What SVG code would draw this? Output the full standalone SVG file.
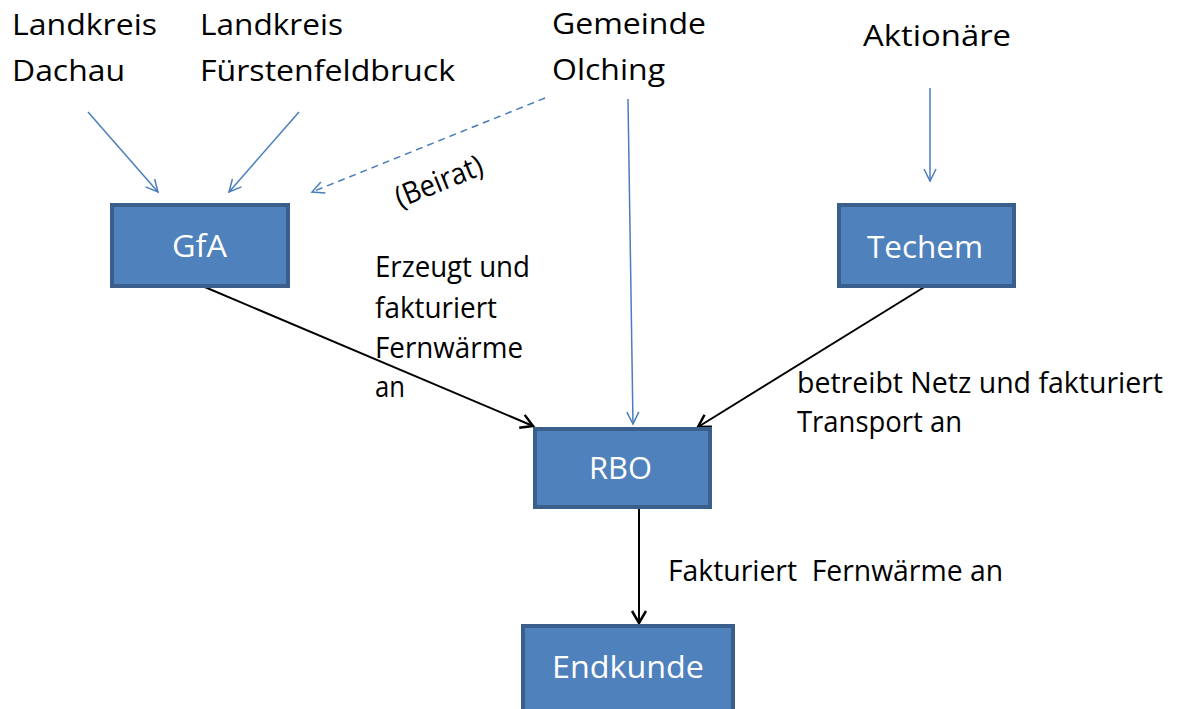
<svg xmlns="http://www.w3.org/2000/svg" width="1177" height="709" viewBox="0 0 1177 709">
<style>
.box{fill:#4F81BD;stroke:#3A5F8C;stroke-width:4}
.lbl{font-family:"Open Sans","Liberation Sans",sans-serif;font-size:30px;fill:#000}
.blbl{font-family:"Open Sans","Liberation Sans",sans-serif;font-size:31px;fill:#FFFFFF}
.blue{stroke:#4A7EBB;stroke-width:1.5;fill:none;marker-end:url(#ab)}
.dash{stroke-dasharray:7 5}
.black{stroke:#000;stroke-width:2;fill:none;marker-end:url(#ak)}
</style>
<defs>
<marker id="ab" markerUnits="userSpaceOnUse" markerWidth="16" markerHeight="16" refX="13" refY="7" orient="auto" viewBox="0 0 16 14">
<path d="M1,1 L13,7 L1,13" fill="none" stroke="#4A7EBB" stroke-width="1.5"/>
</marker>
<marker id="ak" markerUnits="userSpaceOnUse" markerWidth="16" markerHeight="18" refX="13" refY="8" orient="auto" viewBox="0 0 16 16">
<path d="M1,1 L13,8 L1,15" fill="none" stroke="#000" stroke-width="2.5"/>
</marker>
</defs>
<g id="connectors">
<line class="blue" x1="88" y1="112" x2="158" y2="192"/>
<line class="blue" x1="299" y1="112" x2="229" y2="192"/>
<line class="blue dash" x1="545" y1="98" x2="312" y2="192"/>
<line class="blue" x1="628" y1="99" x2="633" y2="424"/>
<line class="blue" x1="930" y1="88" x2="930" y2="181"/>
<line class="black" x1="200" y1="285" x2="533" y2="426"/>
<line class="black" x1="926" y1="286" x2="698" y2="427"/>
<line class="black" x1="639" y1="509" x2="639" y2="623"/>
</g>
<g id="lk-dachau"><text class="lbl" x="12" y="35" textLength="145" lengthAdjust="spacingAndGlyphs">Landkreis</text><text class="lbl" x="12" y="81" textLength="113" lengthAdjust="spacingAndGlyphs">Dachau</text></g>
<g id="lk-ffb"><text class="lbl" x="200" y="35" textLength="143" lengthAdjust="spacingAndGlyphs">Landkreis</text><text class="lbl" x="200" y="81" textLength="255" lengthAdjust="spacingAndGlyphs">Fürstenfeldbruck</text></g>
<g id="olching"><text class="lbl" x="552" y="34" textLength="154" lengthAdjust="spacingAndGlyphs">Gemeinde</text><text class="lbl" x="552" y="80" textLength="113" lengthAdjust="spacingAndGlyphs">Olching</text></g>
<g id="aktionaere"><text class="lbl" x="863" y="46" textLength="148" lengthAdjust="spacingAndGlyphs">Aktionäre</text></g>
<g id="beirat"><text class="lbl" font-size="27" transform="translate(400,208) rotate(-22)" textLength="92" lengthAdjust="spacingAndGlyphs">(Beirat)</text></g>
<g id="gfa"><rect class="box" x="112" y="205" width="176" height="81"/><text class="blbl" x="172" y="257" textLength="55" lengthAdjust="spacingAndGlyphs">GfA</text></g>
<g id="techem"><rect class="box" x="839" y="205" width="175" height="81"/><text class="blbl" x="867" y="258" textLength="116" lengthAdjust="spacingAndGlyphs">Techem</text></g>
<g id="rbo"><rect class="box" x="535" y="429" width="175" height="78"/><text class="blbl" x="589" y="479" textLength="63" lengthAdjust="spacingAndGlyphs">RBO</text></g>
<g id="endkunde"><rect class="box" x="523" y="626" width="210" height="86"/><text class="blbl" x="552" y="678" textLength="152" lengthAdjust="spacingAndGlyphs">Endkunde</text></g>
<g id="lbl-gfa-rbo">
<text class="lbl" font-size="27" x="375" y="277" textLength="155" lengthAdjust="spacingAndGlyphs">Erzeugt und</text>
<text class="lbl" font-size="27" x="375" y="318" textLength="122" lengthAdjust="spacingAndGlyphs">fakturiert</text>
<text class="lbl" font-size="27" x="375" y="358" textLength="148" lengthAdjust="spacingAndGlyphs">Fernwärme</text>
<text class="lbl" font-size="27" x="375" y="397" textLength="30" lengthAdjust="spacingAndGlyphs">an</text>
</g>
<g id="lbl-techem-rbo">
<text class="lbl" font-size="27" x="797" y="393" textLength="366" lengthAdjust="spacingAndGlyphs">betreibt Netz und fakturiert</text>
<text class="lbl" font-size="27" x="797" y="432" textLength="165" lengthAdjust="spacingAndGlyphs">Transport an</text>
</g>
<g id="lbl-rbo-endkunde">
<text class="lbl" font-size="27" x="668" y="581" textLength="335" lengthAdjust="spacingAndGlyphs" xml:space="preserve">Fakturiert  Fernwärme an</text>
</g>
</svg>
